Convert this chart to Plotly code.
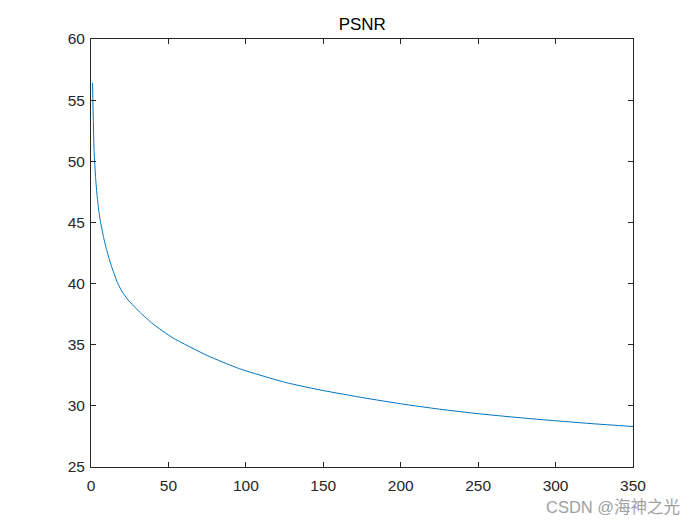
import plotly.graph_objects as go

# Data
x_vals = [1, 2, 3, 4, 5, 6, 8, 10, 13, 17, 20, 24, 32, 40, 53, 75, 96, 126,
          150, 176, 200, 225, 250, 275, 300, 325, 350]
psnr_vals = [56.4, 50.8, 48.6, 47.1, 46.0, 45.15, 43.85, 42.8, 41.5, 40.1, 39.35, 38.65,
             37.6, 36.7, 35.55, 34.12, 33.03, 31.9,
             31.25, 30.66, 30.17, 29.73, 29.36, 29.05, 28.78, 28.53, 28.31]
x_ticks = [0, 50, 100, 150, 200, 250, 300, 350]
y_ticks = [25, 30, 35, 40, 45, 50, 55, 60]
title_text = "PSNR"
watermark = "CSDN @海神之光"

OFF = 8  # page body margin
L, T = 91 - OFF, 39.4 - OFF
PW, PH = 542.5, 427.85

fig = go.Figure()
fig.add_trace(go.Scatter(x=x_vals, y=psnr_vals, mode="lines", line_shape="spline",
                         line=dict(color="#0072BD", width=1, smoothing=0.5), showlegend=False))

font_fam = "Arial, Liberation Sans, Helvetica"
axis_common = dict(showgrid=False, zeroline=False, showline=True, linecolor="#262626",
                   linewidth=1, mirror="allticks", ticks="inside", ticklen=5,
                   tickcolor="#262626", tickfont=dict(family=font_fam, size=15.5, color="#262626"))

fig.update_layout(
    width=700, height=525,
    margin=dict(l=L, r=700 - L - PW, t=T, b=525 - T - PH),
    paper_bgcolor="white", plot_bgcolor="white",
    title=dict(text=title_text, x=(L + PW / 2) / 700, xanchor="center",
               y=1 - (24 - OFF) / 525, yanchor="middle",
               font=dict(family=font_fam, size=17, color="black")),
    xaxis=dict(range=[0, 350], tickvals=x_ticks, ticklabelstandoff=4, **axis_common),
    yaxis=dict(range=[25, 60], tickvals=y_ticks, ticklabelstandoff=2, **axis_common),
    annotations=[dict(text=watermark, xref="paper", yref="paper",
                      x=(683 - 91) / PW, y=(467.25 - 507) / PH,
                      xanchor="right", yanchor="middle", showarrow=False,
                      font=dict(family="Arial, Liberation Sans, Noto Sans CJK SC", size=16.5, color="#a0a0a0"))],
)

fig.write_html("out.html")
